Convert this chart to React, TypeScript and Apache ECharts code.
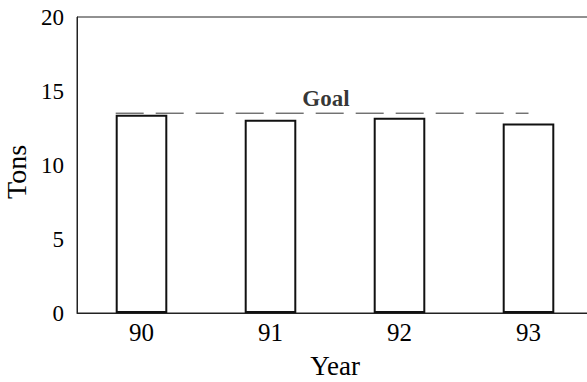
import React, { useEffect, useRef } from "react";
import * as echarts from "echarts";

const years = ["90", "91", "92", "93"];
const tons = [13.4, 13.05, 13.2, 12.8];
const goalValue = 13.5;
const goalSpan = [-0.2, 3.0];
const goalLabelPos = 1.43;
const yTicks = { min: 0, max: 20, interval: 5 };

const SERIF = "'Liberation Serif', 'Times New Roman', serif";

export default function App() {
  const ref = useRef<HTMLDivElement>(null);
  useEffect(() => {
    if (!ref.current) return;
    const chart = echarts.init(ref.current, null, { renderer: "svg" });
    chart.setOption({
      animation: false,
      backgroundColor: "#ffffff",
      textStyle: { fontFamily: SERIF },
      grid: {
        left: 77,
        top: 17,
        width: 516,
        height: 296,
        containLabel: false,
        outerBoundsMode: "none",
        show: true,
        borderColor: "#222",
        borderWidth: 1,
        backgroundColor: "transparent",
      },
      xAxis: [
        {
          type: "category",
          data: years,
          axisTick: { show: false },
          axisLine: { onZero: false, lineStyle: { color: "#222", width: 1 } },
          axisLabel: { color: "#000", fontFamily: SERIF, fontSize: 25, margin: 7 },
          name: "Year",
          nameLocation: "middle",
          nameGap: 39,
          nameTextStyle: { color: "#000", fontFamily: SERIF, fontSize: 27 },
        },
        { type: "value", min: -0.5, max: 3.5, show: false },
      ],
      yAxis: {
        type: "value",
        min: yTicks.min,
        max: yTicks.max,
        interval: yTicks.interval,
        splitLine: { show: false },
        axisTick: { show: false },
        axisLine: { show: true, onZero: false, lineStyle: { color: "#222", width: 1 } },
        axisLabel: { color: "#000", fontFamily: SERIF, fontSize: 23, margin: 13 },
        name: "Tons",
        nameLocation: "middle",
        nameGap: 34,
        nameTextStyle: { color: "#000", fontFamily: SERIF, fontSize: 28, padding: [0, 0, 0, -14] },
      },
      series: [
        {
          type: "bar",
          data: tons,
          barWidth: "40%",
          itemStyle: { color: "#ffffff", borderColor: "#111", borderWidth: 2 },
        },
        {
          type: "line",
          xAxisIndex: 1,
          data: [
            [goalSpan[0], goalValue],
            [goalSpan[1], goalValue],
          ],
          symbol: "none",
          lineStyle: { color: "#333", width: 1, type: [28, 12] },
        },
        {
          type: "scatter",
          xAxisIndex: 1,
          data: [[goalLabelPos, goalValue]],
          symbolSize: 0,
          label: {
            show: true,
            position: "top",
            distance: 3,
            formatter: "Goal",
            color: "#000",
            fontFamily: SERIF,
            fontWeight: "bold",
            fontSize: 23,
          },
        },
      ],
    });
    return () => chart.dispose();
  }, []);
  return (
    <div
      ref={ref}
      style={{ position: "absolute", left: 0, top: 0, width: 587, height: 382 }}
    />
  );
}
